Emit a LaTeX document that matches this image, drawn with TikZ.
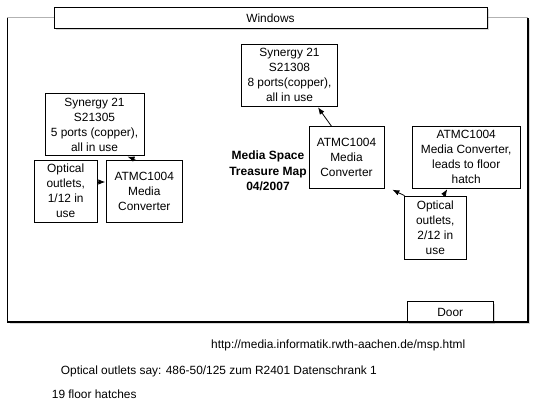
\documentclass[tikz,border=0pt]{standalone}
\usepackage{fontspec}
\setmainfont{Liberation Sans}
\usetikzlibrary{arrows.meta,shadows}

\tikzset{
	labeltext/.style = {font = \fontsize{11.9}{15}\selectfont, align = center, inner sep = 1pt},
	box/.style = {labeltext, draw = black, fill = white, line width = 0.8pt},
	shadowbox/.style = {box, drop shadow = {shadow xshift = 2pt, shadow yshift = -2pt, opacity = 0.3}},
	link/.style = {-{Latex[length = 7pt, width = 5.5pt]}, line width = 0.8pt},
}

\begin{document}
\begin{tikzpicture}[x = 1pt, y = -1pt]

	\useasboundingbox (0,0) rectangle (536,409);

	\node[
		fill = white,
		draw = none,
		minimum width = 520.5pt,
		minimum height = 304pt,
		drop shadow = {shadow xshift = 2pt, shadow yshift = -2pt, opacity = 0.3},
		name = room,
	] at (267.75,170) {};

	\draw[gray!60, line width = 1pt]
		(room.north west) -- (room.north east);

	\node[
		shadowbox,
		minimum width = 433pt,
		minimum height = 21pt,
		name = windows,
	] at (270.5,17.8) {Windows};

	\node[
		shadowbox,
		minimum width = 86pt,
		minimum height = 20.6pt,
		name = door,
	] at (450.3,312) {Door};

	\draw[line width = 1.6pt]
		(room.north west) -- (room.south west) -- (room.south east) -- (room.north east);

	\node[box, minimum width = 99pt, minimum height = 62.4pt, name = synleft]
		at (94.5,124.5) {Synergy 21\\S21305\\5 ports (copper),\\all in use};

	\node[box, minimum width = 63pt, minimum height = 62pt, name = optleft]
		at (65.7,191) {Optical\\outlets,\\1/12 in\\use};

	\node[box, minimum width = 75.3pt, minimum height = 62pt, name = convleft]
		at (144.3,191) {ATMC1004\\Media\\Converter};

	\node[box, minimum width = 95.6pt, minimum height = 62pt, name = synmid]
		at (289.5,75) {Synergy 21\\S21308\\8 ports(copper),\\all in use};

	\node[box, minimum width = 75pt, minimum height = 61.3pt, name = convmid]
		at (346.5,157.3) {ATMC1004\\Media\\Converter};

	\node[box, minimum width = 107.7pt, minimum height = 62.3pt, name = convright]
		at (466.2,157.2) {ATMC1004\\Media Converter,\\leads to floor\\hatch};

	\node[box, minimum width = 62.7pt, minimum height = 63.3pt, name = optright]
		at (435.3,227.7) {Optical\\outlets,\\2/12 in\\use};

	\node[labeltext, font = \fontsize{12}{15.5}\selectfont\bfseries, name = title]
		at (268,171) {Media Space\\Treasure Map\\04/2007};

	\draw[link] ([yshift = 9pt]optleft.east) -- ([yshift = 9pt, xshift = -1pt]convleft.west);
	\draw[link] ([xshift = -9pt]convleft.north) -- ([xshift = 33pt, yshift = -0.5pt]synleft.south);
	\draw[link] ([xshift = -15pt]convmid.north) -- ([xshift = 28.5pt, yshift = -1pt]synmid.south);
	\draw[link] ([xshift = 1pt]optright.north west) -- ([xshift = 8pt, yshift = -1pt]convright.south west -| convmid.south east);
	\draw[link] ([xshift = 8pt]optright.north) -- ([xshift = -19pt, yshift = -0.5pt]convright.south);

	\node[labeltext, anchor = west, inner sep = 0pt, name = url]
		at (211,345) {http://media.informatik.rwth-aachen.de/msp.html};

	\node[labeltext, anchor = west, inner sep = 0pt, name = outletnote]
		at (60.7,371.7) {Optical outlets say: 486-50/125 zum R2401 Datenschrank 1};

	\node[labeltext, anchor = west, inner sep = 0pt, name = hatchnote]
		at (51.7,394) {19 floor hatches};

\end{tikzpicture}
\end{document}
